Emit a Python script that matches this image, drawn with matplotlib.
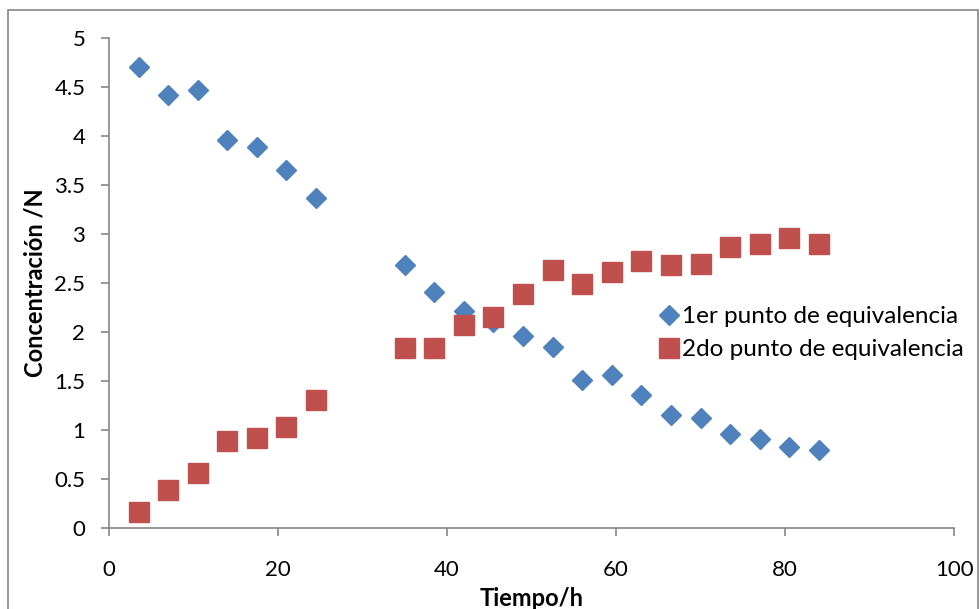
import matplotlib
matplotlib.use("Agg")
import matplotlib.pyplot as plt
from matplotlib.patches import Rectangle

plt.rcParams['font.family'] = ['Lato', 'DejaVu Sans']

# Tiempo (h)
tiempo = [3.5, 7, 10.5, 14, 17.5, 21, 24.5, 35, 38.5, 42, 45.5, 49, 52.5,
          56, 59.5, 63, 66.5, 70, 73.5, 77, 80.5, 84]

# Concentraciones (N)
primer_punto = [4.70, 4.42, 4.47, 3.96, 3.89, 3.65, 3.37, 2.68, 2.41, 2.21,
                2.10, 1.96, 1.84, 1.51, 1.56, 1.35, 1.15, 1.12, 0.96, 0.91,
                0.82, 0.79]
segundo_punto = [0.16, 0.38, 0.56, 0.89, 0.92, 1.03, 1.30, 1.83, 1.83, 2.07,
                 2.15, 2.39, 2.63, 2.49, 2.61, 2.72, 2.68, 2.69, 2.87, 2.90,
                 2.96, 2.90]

fig = plt.figure(figsize=(9.8, 6.09), dpi=100)
ax = fig.add_axes([0.1112, 0.1335, 0.8623, 0.8041])

# borde exterior del grafico
fig.patches.append(Rectangle((8/980, -0.05), 970/980, 1.05 - 10/609,
                             transform=fig.transFigure, fill=False,
                             edgecolor='#868686', linewidth=1.2))

ax.plot(tiempo, primer_punto, linestyle='none', marker='D', markersize=10.5,
        color='#4F81BD', label='1er punto de equivalencia')
ax.plot(tiempo, segundo_punto, linestyle='none', marker='s', markersize=14.5,
        color='#C0504D', label='2do punto de equivalencia')

ax.set_xlim(0, 100)
ax.set_ylim(0, 5)
ax.set_xticks([0, 20, 40, 60, 80, 100])
ax.set_yticks([0, 0.5, 1, 1.5, 2, 2.5, 3, 3.5, 4, 4.5, 5])
ax.set_yticklabels(['0', '0.5', '1', '1.5', '2', '2.5', '3', '3.5', '4', '4.5', '5'])

for s in ['top', 'right']:
    ax.spines[s].set_visible(False)
for s in ['left', 'bottom']:
    ax.spines[s].set_color('#868686')
    ax.spines[s].set_linewidth(1.2)
ax.tick_params(axis='both', colors='#868686', labelcolor='black',
               labelsize=16, length=6, width=1.2, direction='out')
ax.tick_params(axis='x', pad=17)
ax.tick_params(axis='y', pad=11)

ax.set_xlabel('Tiempo/h', fontsize=17, fontweight='bold', labelpad=5)
ax.set_ylabel('Concentración /N', fontsize=17, fontweight='bold', labelpad=6)

ax.legend(loc='upper left', bbox_to_anchor=(0.635, 0.472), frameon=False,
          fontsize=17.5, handletextpad=0.0, borderaxespad=0, labelspacing=0.5,
          handlelength=1.1)

fig.savefig('out.png', dpi=100)
